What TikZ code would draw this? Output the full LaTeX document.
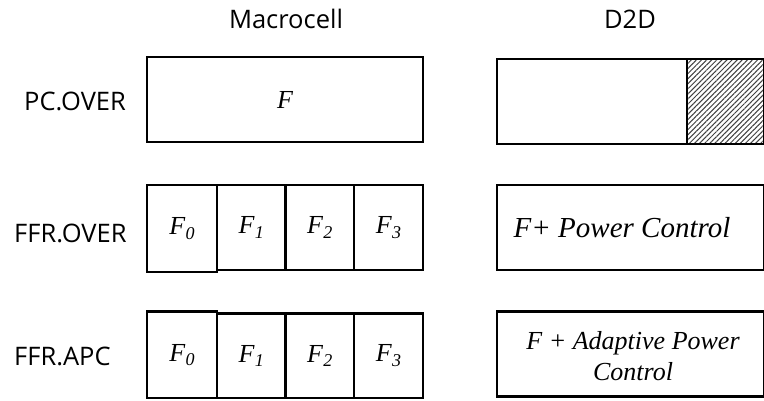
\documentclass[tikz,border=0pt]{standalone}
\usepackage{fontspec}
\setmainfont{Liberation Serif}
\newfontfamily\lblfont{Open Sans}
\usetikzlibrary{patterns.meta}
\newcommand\Fsub[1]{F\kern0.3pt\raisebox{-0.35ex}{\fontsize{18}{18}\selectfont #1}}
\begin{document}
\begin{tikzpicture}[x=1pt,y=-1pt,
  cell/.style={draw, line width=2.8pt, inner sep=0pt, outer sep=0pt, anchor=north west,
    font=\fontsize{26}{31}\selectfont\itshape, align=center},
  lbl/.style={font=\lblfont\fontsize{25.5}{28}\selectfont, inner sep=0pt},
  hatch/.style={pattern={Lines[angle=45,distance=3.6pt,line width=1pt]}, pattern color=black!75}]
\useasboundingbox (0,0) rectangle (764,400);

% headings
\node[lbl, anchor=base] (hmacro) at (286,28) {Macrocell};
\node[lbl, anchor=base] (hd2d) at (630,28) {D2D};

% row labels
\node[lbl, anchor=base west] (l1) at (24,110) {PC.OVER};
\node[lbl, anchor=base west] (l2) at (14,242) {FFR.OVER};
\node[lbl, anchor=base west] (l3) at (14,365) {FFR.APC};

% row 1
\node[cell, minimum width=276pt, minimum height=85pt] (m1) at (147,57) {F};
\node[cell, minimum width=190pt, minimum height=85pt] (d1a) at (497,59) {};
\node[cell, hatch, minimum width=77pt, minimum height=85pt] (d1b) at (687,59) {};

% row 2
\node[cell, minimum width=68.5pt, minimum height=85pt] (m2b) at (217,185) {\Fsub{1}};
\node[cell, minimum width=68.5pt, minimum height=85pt] (m2c) at (285.5,185) {\Fsub{2}};
\node[cell, minimum width=69pt, minimum height=85pt] (m2d) at (354,185) {\Fsub{3}};
\node[cell, minimum width=70pt, minimum height=87pt] (m2a) at (147,185) {\Fsub{0}};
\node[cell, minimum width=267pt, minimum height=85pt] (d2) at (497,185) {};
\node[font=\fontsize{29}{33}\selectfont\itshape, inner sep=0pt] (d2t) at (622,227.5) {F+ Power Control};

% row 3
\node[cell, minimum width=68.5pt, minimum height=84.7pt] (m3b) at (217,313.3) {\Fsub{1}};
\node[cell, minimum width=68.5pt, minimum height=84.7pt] (m3c) at (285.5,313.3) {\Fsub{2}};
\node[cell, minimum width=69pt, minimum height=84.7pt] (m3d) at (354,313.3) {\Fsub{3}};
\node[cell, minimum width=70pt, minimum height=86.3pt] (m3a) at (147,311.7) {\Fsub{0}};
\node[cell, minimum width=267pt, minimum height=85pt] (d3) at (497,311.7) {};
\node[font=\fontsize{26}{31}\selectfont\itshape, align=center, inner sep=0pt] (d3t) at (633,356.5) {F + Adaptive Power\\Control};
\end{tikzpicture}
\end{document}
